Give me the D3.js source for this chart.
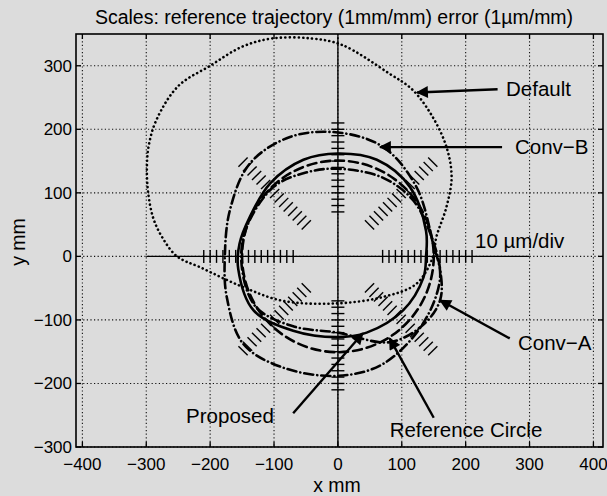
<!DOCTYPE html>
<html>
<head>
<meta charset="utf-8">
<script src="https://cdn.jsdelivr.net/npm/d3@7"></script>
<style>
  html, body { margin: 0; padding: 0; background: #dcdcdc; }
  svg { display: block; font-family: "Liberation Sans", Arial, Helvetica, sans-serif; }
</style>
</head>
<body>
<svg id="chart" width="607" height="496"></svg>
<script>
// ---- data (mm) ----
const xTicks = [-400, -300, -200, -100, 0, 100, 200, 300, 400];
const yTicks = [-300, -200, -100, 0, 100, 200, 300];
const xTickLabels = ["\u2212400", "\u2212300", "\u2212200", "\u2212100", "0", "100", "200", "300", "400"];
const yTickLabels = ["\u2212300", "\u2212200", "\u2212100", "0", "100", "200", "300"];

// radial scale marks, 10 µm per division
const scaleMarks = [70, 80, 90, 100, 110, 120, 130, 140, 150, 160, 170, 180, 190, 200, 210];
const diagonalAngles = [45, 135, 225, 315];

const referenceRadius = 150;

// measured trajectories, [x, y] in mm
const defaultTrace = [
  [-42, 343], [6, 333], [80, 288], [117, 262], [148, 220], [170, 172], [178, 125], [170, 78],
  [154, 30], [149, 0], [123, -43], [70, -64], [-2, -74], [-86, -70], [-149, -48], [-216, -17],
  [-252, 0], [-275, 30], [-289, 60], [-297, 100], [-299, 140], [-296, 175], [-284, 215],
  [-250, 268], [-200, 300], [-150, 330], [-103, 343]
];
const convBTrace = [
  [0, 195], [71, 172], [123, 109], [149, 20], [160, -33], [133, -106], [71, -169], [0, -188],
  [-86, -175], [-148, -138], [-174, -64], [-177, 0], [-169, 73], [-138, 146], [-75, 188]
];
const convATrace = [
  [0, 138], [70, 124], [118, 88], [145, 35], [160, -20], [160, -69], [133, -108], [81, -135],
  [0, -120], [-70, -110], [-128, -80], [-150, -20], [-145, 40], [-101, 109], [-50, 132]
];
const proposedTrace = [
  [0, 162], [61, 152], [113, 109], [138, 40], [138, 0], [134, -33], [102, -85], [45, -120],
  [-2, -127], [-70, -117], [-132, -85], [-156, -20], [-154, 20], [-138, 62], [-106, 115], [-54, 152]
];

const traceNames = ["Default", "Conv\u2212B", "Conv\u2212A", "Proposed", "Reference Circle"];

// ---- layout ----
const svg = d3.select("#chart");
const W = 607, H = 496;
const plot = { left: 76, right: 603, top: 34, bottom: 447 };

const x = d3.scaleLinear().domain([-410, 415]).range([plot.left, plot.right]);
const y = d3.scaleLinear().domain([-300, 350]).range([plot.bottom, plot.top]);

svg.append("rect").attr("width", W).attr("height", H).attr("fill", "#dcdcdc");

// title
svg.append("text")
  .attr("x", 334).attr("y", 24)
  .attr("text-anchor", "middle")
  .attr("font-size", 19.5)
  .text("Scales: reference trajectory (1mm/mm) error (1\u00b5m/mm)");

const defs = svg.append("defs");
defs.append("clipPath").attr("id", "plotClip")
  .append("rect")
  .attr("x", plot.left).attr("y", plot.top)
  .attr("width", plot.right - plot.left).attr("height", plot.bottom - plot.top);

// grid
const grid = svg.append("g").attr("stroke", "#111").attr("stroke-width", 1.1)
  .attr("stroke-dasharray", "1.2,2.4");
grid.selectAll("line.gx").data(xTicks).join("line")
  .attr("x1", d => x(d)).attr("x2", d => x(d))
  .attr("y1", plot.top).attr("y2", plot.bottom);
grid.selectAll("line.gy").data(yTicks).join("line")
  .attr("y1", d => y(d)).attr("y2", d => y(d))
  .attr("x1", plot.left).attr("x2", plot.right);

// central axes lines
const axesG = svg.append("g").attr("stroke", "#000").attr("stroke-width", 1.4);
axesG.append("line").attr("x1", x(-300)).attr("x2", x(300)).attr("y1", y(0)).attr("y2", y(0));
axesG.append("line").attr("x1", x(0)).attr("x2", x(0)).attr("y1", y(-300)).attr("y2", y(345));

// radial scale marks
const marks = svg.append("g").attr("stroke", "#000").attr("stroke-width", 1.4);
const half = 6.5;
diagonalAngles.concat([0, 90, 180, 270]).forEach(a => {
  const t = a * Math.PI / 180;
  scaleMarks.forEach(r => {
    const cx = x(r * Math.cos(t)), cy = y(r * Math.sin(t));
    // screen-space direction perpendicular to the radius
    const px = Math.sin(t), py = Math.cos(t);
    marks.append("line")
      .attr("x1", cx - px * half).attr("y1", cy - py * half)
      .attr("x2", cx + px * half).attr("y2", cy + py * half);
  });
});

// traces
const line = d3.line().x(d => x(d[0])).y(d => y(d[1])).curve(d3.curveCatmullRomClosed.alpha(0.5));
const traces = svg.append("g").attr("clip-path", "url(#plotClip)").attr("fill", "none")
  .attr("stroke", "#000").attr("stroke-linecap", "round");

traces.append("path").datum(defaultTrace).attr("d", line)
  .attr("stroke-width", 2.6).attr("stroke-dasharray", "0.1,4.3");
traces.append("path").datum(convBTrace).attr("d", line)
  .attr("stroke-width", 2.6).attr("stroke-dasharray", "9,4,0.1,4");
traces.append("path").datum(convATrace).attr("d", line)
  .attr("stroke-width", 2.6).attr("stroke-dasharray", "9,4,0.1,4");
traces.append("path").datum(proposedTrace).attr("d", line)
  .attr("stroke-width", 2.6);
traces.append("circle")
  .attr("cx", x(0)).attr("cy", y(0))
  .attr("r", x(referenceRadius) - x(0))
  .attr("stroke-width", 2.6).attr("stroke-dasharray", "9,5");

// frame
svg.append("rect")
  .attr("x", plot.left).attr("y", plot.top)
  .attr("width", plot.right - plot.left).attr("height", plot.bottom - plot.top)
  .attr("fill", "none").attr("stroke", "#000").attr("stroke-width", 1.6);

// inward ticks
const tickLen = 5;
const tk = svg.append("g").attr("stroke", "#000").attr("stroke-width", 1.3);
xTicks.forEach(v => {
  tk.append("line").attr("x1", x(v)).attr("x2", x(v)).attr("y1", plot.bottom).attr("y2", plot.bottom - tickLen);
  tk.append("line").attr("x1", x(v)).attr("x2", x(v)).attr("y1", plot.top).attr("y2", plot.top + tickLen);
});
yTicks.forEach(v => {
  tk.append("line").attr("y1", y(v)).attr("y2", y(v)).attr("x1", plot.left).attr("x2", plot.left + tickLen);
  tk.append("line").attr("y1", y(v)).attr("y2", y(v)).attr("x1", plot.right).attr("x2", plot.right - tickLen);
});

// tick labels
const tl = svg.append("g").attr("font-size", 17).attr("fill", "#000");
xTicks.forEach((v, i) => {
  tl.append("text").attr("x", x(v)).attr("y", 470).attr("text-anchor", "middle").text(xTickLabels[i]);
});
yTicks.forEach((v, i) => {
  tl.append("text").attr("x", 72).attr("y", y(v) + 6).attr("text-anchor", "end").text(yTickLabels[i]);
});

// axis labels
svg.append("text").attr("x", 337).attr("y", 492).attr("text-anchor", "middle")
  .attr("font-size", 19.5).text("x mm");
svg.append("text").attr("transform", "translate(25,242) rotate(-90)")
  .attr("text-anchor", "middle").attr("font-size", 19.5).text("y mm");

// annotations: arrow tail/tip in mm, label anchor in px
defs.append("marker").attr("id", "head").attr("viewBox", "0 0 10 10")
  .attr("refX", 9).attr("refY", 5).attr("markerWidth", 6).attr("markerHeight", 5)
  .attr("markerUnits", "strokeWidth").attr("orient", "auto")
  .append("path").attr("d", "M0,0L10,5L0,10z").attr("fill", "#000");

const notes = [
  { name: traceNames[0], tail: [250, 263], tip: [124, 258], tx: 506, ty: 96, anchor: "start" },
  { name: traceNames[1], tail: [257, 172], tip: [66, 172], tx: 515, ty: 154, anchor: "start" },
  { name: traceNames[2], tail: [269, -129], tip: [160, -69], tx: 518, ty: 350, anchor: "start" },
  { name: traceNames[3], tail: [-70, -247], tip: [39, -121], tx: 230, ty: 423, anchor: "middle" },
  { name: traceNames[4], tail: [150, -254], tip: [81, -129], tx: 466, ty: 437, anchor: "middle" }
];
const ann = svg.append("g");
notes.forEach(n => {
  ann.append("line")
    .attr("x1", x(n.tail[0])).attr("y1", y(n.tail[1]))
    .attr("x2", x(n.tip[0])).attr("y2", y(n.tip[1]))
    .attr("stroke", "#000").attr("stroke-width", 2.4)
    .attr("marker-end", "url(#head)");
  ann.append("text").attr("x", n.tx).attr("y", n.ty).attr("text-anchor", n.anchor)
    .attr("font-size", 20.5).text(n.name);
});
ann.append("text").attr("x", 475).attr("y", 248).attr("font-size", 20.5).text("10 \u00b5m/div");
</script>
</body>
</html>
